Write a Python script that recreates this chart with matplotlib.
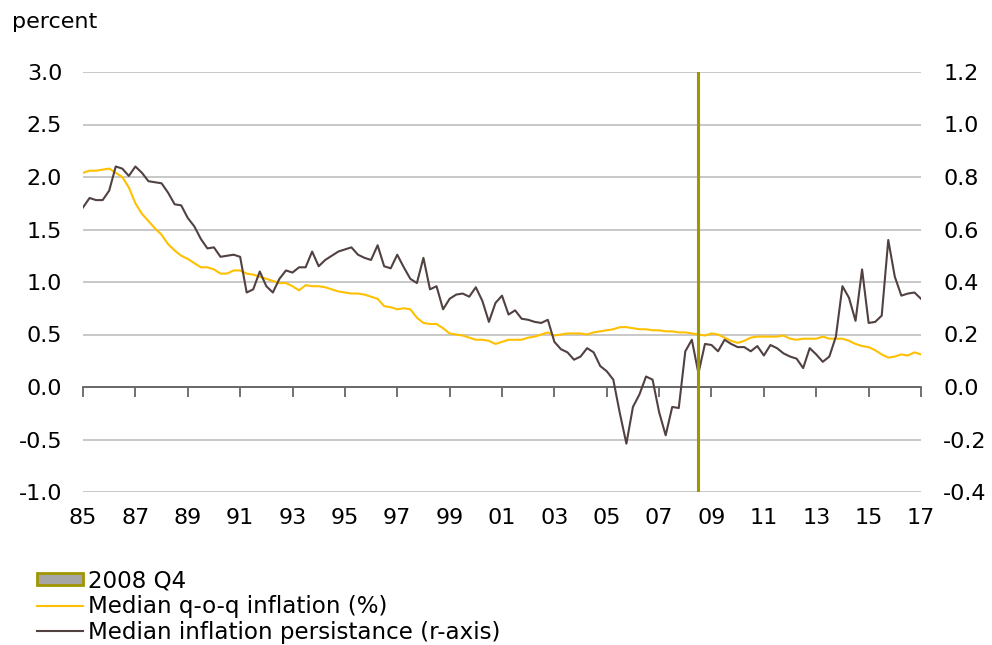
import matplotlib
matplotlib.use("Agg")
import matplotlib.pyplot as plt
import matplotlib.ticker as mticker
import matplotlib.transforms as mtransforms

# quarterly observations, 1985Q2 .. 2017Q2
start_year, start_q = 1985, 2

# median q-o-q inflation, percent (left axis)
inflation = [
    2.04, 2.06, 2.06, 2.07, 2.08, 2.04, 2.00, 1.90, 1.75, 1.65,
    1.58, 1.51, 1.45, 1.36, 1.30, 1.25, 1.22, 1.18, 1.14, 1.14,
    1.12, 1.08, 1.08, 1.11, 1.11, 1.08, 1.07, 1.05, 1.03, 1.01,
    0.99, 0.99, 0.96, 0.92, 0.97, 0.96, 0.96, 0.95, 0.93, 0.91,
    0.90, 0.89, 0.89, 0.88, 0.86, 0.84, 0.77, 0.76, 0.74, 0.75,
    0.74, 0.66, 0.61, 0.60, 0.60, 0.56, 0.51, 0.50, 0.49, 0.47,
    0.45, 0.45, 0.44, 0.41, 0.43, 0.45, 0.45, 0.45, 0.47, 0.48,
    0.50, 0.52, 0.49, 0.50, 0.51, 0.51, 0.51, 0.50, 0.52, 0.53,
    0.54, 0.55, 0.57, 0.57, 0.56, 0.55, 0.55, 0.54, 0.54, 0.53,
    0.53, 0.52, 0.52, 0.51, 0.50, 0.49, 0.51, 0.50, 0.47, 0.44,
    0.42, 0.44, 0.47, 0.48, 0.48, 0.48, 0.48, 0.49, 0.46, 0.45,
    0.46, 0.46, 0.46, 0.48, 0.46, 0.46, 0.46, 0.44, 0.41, 0.39,
    0.38, 0.35, 0.31, 0.28, 0.29, 0.31, 0.30, 0.33, 0.31,
]

# median inflation persistence (right axis)
persistence = [
    0.684, 0.720, 0.712, 0.712, 0.748, 0.840, 0.832, 0.804, 0.840, 0.816,
    0.784, 0.780, 0.776, 0.740, 0.696, 0.692, 0.644, 0.612, 0.564, 0.528,
    0.532, 0.496, 0.500, 0.504, 0.496, 0.360, 0.372, 0.440, 0.384, 0.360,
    0.412, 0.444, 0.436, 0.456, 0.456, 0.516, 0.460, 0.484, 0.500, 0.516,
    0.524, 0.532, 0.504, 0.492, 0.484, 0.540, 0.460, 0.452, 0.504, 0.456,
    0.412, 0.396, 0.492, 0.372, 0.384, 0.296, 0.336, 0.352, 0.356, 0.344,
    0.380, 0.328, 0.248, 0.320, 0.348, 0.276, 0.292, 0.260, 0.256, 0.248,
    0.244, 0.256, 0.172, 0.144, 0.132, 0.104, 0.116, 0.148, 0.132, 0.080,
    0.060, 0.028, -0.100, -0.216, -0.076, -0.028, 0.040, 0.028, -0.096, -0.184,
    -0.076, -0.080, 0.136, 0.180, 0.052, 0.164, 0.160, 0.136, 0.180, 0.164,
    0.152, 0.152, 0.136, 0.156, 0.120, 0.160, 0.148, 0.128, 0.116, 0.108,
    0.072, 0.148, 0.124, 0.096, 0.116, 0.192, 0.384, 0.340, 0.252, 0.448,
    0.244, 0.248, 0.272, 0.560, 0.420, 0.348, 0.356, 0.360, 0.336,
]

crisis_label = "2008 Q4"
crisis_year, crisis_q = 2008, 4

tick_years = list(range(1985, 2018, 2))
tick_labels = [f"{y % 100:02d}" for y in tick_years]

left_ticks = [-1.0, -0.5, 0.0, 0.5, 1.0, 1.5, 2.0, 2.5, 3.0]
right_ticks = [-0.4, -0.2, 0.0, 0.2, 0.4, 0.6, 0.8, 1.0, 1.2]

YELLOW = "#FFC000"
DARK = "#514141"
OLIVE = "#A09600"
GRID = "#BFBFBF"
FS = 16

plt.rcParams["font.family"] = "DejaVu Sans"


def q_index(year, q):
    return (year - start_year) * 4 + (q - start_q)


x = list(range(len(inflation)))
tick_pos = [q_index(y, start_q) for y in tick_years]

fig = plt.figure(figsize=(9.92, 6.45), dpi=100)
ax = fig.add_axes([83 / 992, 1 - 492 / 645, 838 / 992, 420 / 645])
ax2 = ax.twinx()

ax.plot(x, inflation, color=YELLOW, lw=1.5, label="Median q-o-q inflation (%)", zorder=3)
ax2.plot(x, persistence, color=DARK, lw=1.5, label="Median inflation persistance (r-axis)", zorder=3)

ax.set_xlim(0, len(inflation) - 1)
ax.set_ylim(left_ticks[0], left_ticks[-1])
ax2.set_ylim(right_ticks[0], right_ticks[-1])

bar = ax2.bar([q_index(crisis_year, crisis_q)], [right_ticks[-1] - right_ticks[0]],
              bottom=right_ticks[0], width=0.08, color="#A6A6A6", edgecolor=OLIVE,
              lw=1.5, label=crisis_label, zorder=4)

# grid + axes styling
ax.set_yticks(left_ticks)
ax.yaxis.set_major_formatter(mticker.FormatStrFormatter("%.1f"))
ax2.set_yticks(right_ticks)
ax2.yaxis.set_major_formatter(mticker.FormatStrFormatter("%.1f"))
ax.grid(axis="y", color=GRID, lw=1.2)
ax.set_axisbelow(True)

for a in (ax, ax2):
    for s in ("top", "left", "right", "bottom"):
        a.spines[s].set_visible(False)

ax.spines["bottom"].set_visible(True)
ax.spines["bottom"].set_position(("data", 0))
ax.spines["bottom"].set_color("#595959")
ax.spines["bottom"].set_linewidth(1.2)
ax.spines["bottom"].set_zorder(2)

ax.set_xticks(tick_pos)
ax.tick_params(axis="x", direction="out", length=7, width=1.2, color="#595959", labelbottom=False)
ax.tick_params(axis="y", length=0, pad=15, labelsize=FS, labelcolor="#000000")
ax2.tick_params(axis="y", length=0, pad=16, labelsize=FS, labelcolor="#000000")

trans = mtransforms.blended_transform_factory(ax.transData, ax.transAxes)
for p, lab in zip(tick_pos, tick_labels):
    ax.text(p, -0.062, lab, transform=trans, ha="center", va="center", fontsize=FS)

fig.text(12 / 992, 1 - 22 / 645, "percent", ha="left", va="center", fontsize=FS)

h1, l1 = ax.get_legend_handles_labels()
h2, l2 = ax2.get_legend_handles_labels()
handles = [bar, h1[0], h2[0]]
labels = [crisis_label, l1[0], l2[0]]
leg = fig.legend(handles, labels, loc="upper left", bbox_to_anchor=(37 / 992, 1 - 569 / 645),
                 frameon=False, fontsize=16.6, handlelength=2.0, handleheight=0.45,
                 handletextpad=0.2, labelspacing=0.12, borderpad=0, borderaxespad=0)
leg.legend_handles[0].set_linewidth(2)

fig.savefig("out.png", dpi=100)
